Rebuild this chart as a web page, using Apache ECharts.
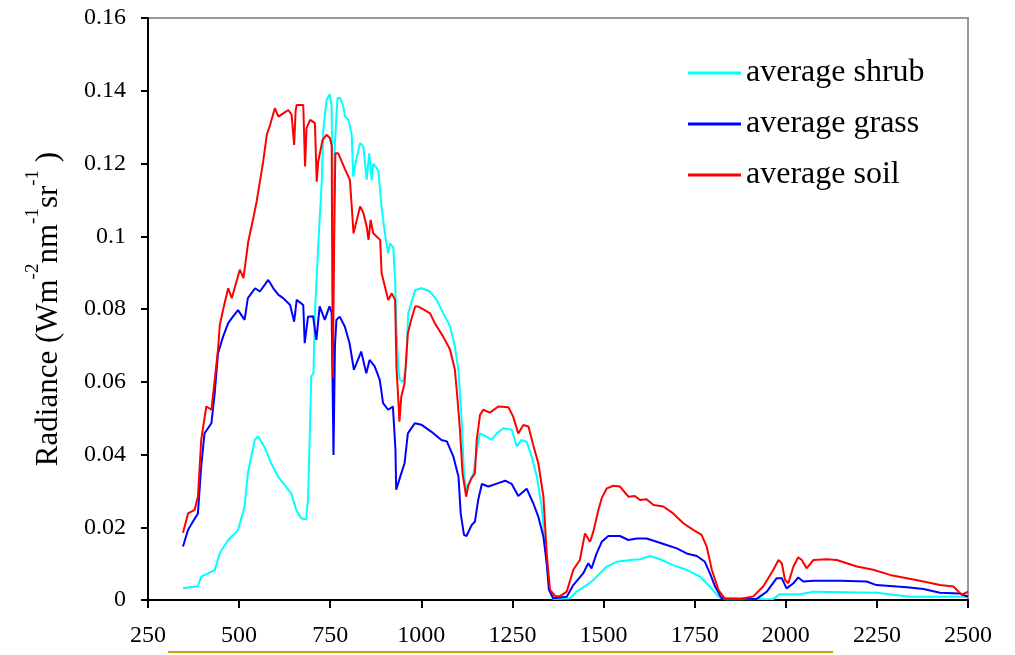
<!DOCTYPE html>
<html>
<head>
<meta charset="utf-8">
<script src="https://cdn.jsdelivr.net/npm/echarts@6/dist/echarts.min.js"></script>
<style>
  html, body { margin: 0; padding: 0; background: #fff; }
  #main { width: 1015px; height: 655px; }
</style>
</head>
<body>
<div id="main"></div>
<script>
// wavelength (nm) / radiance pairs
var shrubWl = [346, 387, 396, 433, 447, 470, 497, 515, 524, 543, 552, 570, 588, 607, 625, 643, 657, 671, 684, 689, 694, 698, 704, 708, 717, 727, 731, 740, 749, 754, 758, 762, 770, 777, 786, 790, 800, 809, 813, 821, 832, 841, 850, 857, 864, 868, 882, 891, 900, 909, 914, 923, 928, 932, 937, 941, 950, 958, 964, 983, 1001, 1024, 1042, 1060, 1079, 1092, 1102, 1111, 1117, 1123, 1134, 1143, 1152, 1161, 1179, 1193, 1207, 1225, 1248, 1262, 1275, 1289, 1303, 1317, 1330, 1344, 1353, 1362, 1408, 1426, 1454, 1472, 1490, 1509, 1536, 1573, 1600, 1627, 1655, 1691, 1728, 1765, 1792, 1815, 1835, 1966, 1984, 2039, 2076, 2249, 2341, 2500];
var shrubRad = [0.0032, 0.0038, 0.0064, 0.0082, 0.0129, 0.0165, 0.0192, 0.0257, 0.0349, 0.044, 0.045, 0.042, 0.0376, 0.0339, 0.0316, 0.0293, 0.0247, 0.0224, 0.0222, 0.0275, 0.0459, 0.0614, 0.0623, 0.0788, 0.0972, 0.1155, 0.1293, 0.1375, 0.139, 0.1357, 0.085, 0.124, 0.138, 0.138, 0.1357, 0.133, 0.132, 0.128, 0.1164, 0.121, 0.1256, 0.1247, 0.1155, 0.1228, 0.1155, 0.12, 0.118, 0.108, 0.1008, 0.0953, 0.098, 0.097, 0.088, 0.0743, 0.0632, 0.0605, 0.060, 0.0641, 0.0788, 0.0852, 0.0857, 0.0848, 0.0825, 0.0788, 0.0752, 0.0697, 0.063, 0.0486, 0.0348, 0.0303, 0.033, 0.0348, 0.041, 0.0458, 0.0449, 0.044, 0.0458, 0.0472, 0.0468, 0.0422, 0.044, 0.0435, 0.0394, 0.0339, 0.0257, 0.0101, 0.0022, 0.0003, 0.0005, 0.0023, 0.0041, 0.0055, 0.0073, 0.0092, 0.0105, 0.011, 0.0112, 0.0121, 0.0112, 0.0096, 0.0083, 0.0064, 0.0037, 0.0009, 0.0002, 0.0003, 0.0016, 0.0016, 0.0023, 0.002, 0.0009, 0.0009];

var grassWl = [346, 360, 373, 387, 396, 405, 424, 433, 442, 456, 470, 483, 497, 515, 524, 544, 557, 580, 594, 608, 621, 640, 651, 658, 676, 680, 689, 703, 712, 721, 735, 748, 754, 759, 763, 767, 776, 790, 803, 815, 826, 835, 849, 858, 872, 886, 895, 909, 922, 929, 931, 945, 954, 963, 982, 1000, 1027, 1055, 1070, 1088, 1102, 1108, 1117, 1124, 1138, 1147, 1156, 1166, 1184, 1207, 1230, 1248, 1266, 1289, 1307, 1321, 1335, 1344, 1350, 1362, 1399, 1417, 1444, 1458, 1467, 1481, 1495, 1513, 1545, 1568, 1591, 1618, 1646, 1673, 1701, 1728, 1756, 1778, 1792, 1806, 1824, 1920, 1948, 1975, 1989, 2002, 2021, 2034, 2048, 2076, 2149, 2222, 2249, 2332, 2378, 2423, 2478, 2500];
var grassRad = [0.0147, 0.0193, 0.0215, 0.0238, 0.0367, 0.0458, 0.0486, 0.0568, 0.0678, 0.0724, 0.0761, 0.0779, 0.0797, 0.077, 0.083, 0.0857, 0.0848, 0.088, 0.0857, 0.0839, 0.083, 0.0811, 0.0765, 0.0825, 0.0811, 0.0706, 0.0779, 0.078, 0.0715, 0.0807, 0.077, 0.0807, 0.079, 0.0399, 0.07, 0.077, 0.0779, 0.0752, 0.0706, 0.0633, 0.066, 0.0683, 0.0623, 0.066, 0.0642, 0.0605, 0.0541, 0.0523, 0.0532, 0.0413, 0.0303, 0.0348, 0.0376, 0.0458, 0.0486, 0.0482, 0.0463, 0.044, 0.0436, 0.0394, 0.0339, 0.0238, 0.0179, 0.0176, 0.0206, 0.0215, 0.0275, 0.0319, 0.0312, 0.032, 0.0328, 0.0319, 0.0286, 0.0306, 0.0266, 0.0229, 0.0174, 0.0101, 0.0028, 0.0005, 0.0009, 0.0041, 0.0073, 0.0101, 0.0087, 0.0128, 0.016, 0.0176, 0.0176, 0.0165, 0.0169, 0.0169, 0.016, 0.0151, 0.0142, 0.0128, 0.0121, 0.0105, 0.0073, 0.0037, 0.0005, 0.0003, 0.0023, 0.006, 0.006, 0.0032, 0.0046, 0.0062, 0.0051, 0.0053, 0.0053, 0.0051, 0.0041, 0.0035, 0.003, 0.002, 0.0018, 0.0009];

var soilWl = [346, 360, 378, 387, 396, 410, 424, 433, 442, 447, 457, 470, 480, 502, 512, 525, 539, 548, 557, 566, 576, 585, 598, 608, 621, 635, 644, 651, 655, 658, 676, 681, 685, 695, 708, 713, 717, 722, 729, 740, 749, 754, 757, 761, 764, 772, 777, 791, 804, 809, 814, 823, 832, 841, 850, 855, 861, 868, 887, 891, 900, 909, 919, 928, 932, 937, 940, 945, 954, 963, 972, 983, 991, 1009, 1024, 1037, 1060, 1079, 1092, 1097, 1106, 1113, 1123, 1129, 1138, 1147, 1152, 1161, 1170, 1188, 1211, 1239, 1252, 1266, 1280, 1294, 1307, 1321, 1335, 1344, 1353, 1367, 1380, 1399, 1417, 1435, 1449, 1463, 1472, 1486, 1495, 1509, 1527, 1545, 1568, 1586, 1600, 1618, 1637, 1664, 1691, 1719, 1746, 1769, 1783, 1797, 1815, 1833, 1874, 1911, 1938, 1966, 1980, 1989, 1998, 2007, 2021, 2034, 2044, 2057, 2076, 2112, 2140, 2195, 2240, 2286, 2332, 2378, 2423, 2460, 2483, 2500];
var soilRad = [0.0185, 0.0238, 0.0248, 0.0284, 0.044, 0.0532, 0.0523, 0.0605, 0.0688, 0.0756, 0.0802, 0.0857, 0.083, 0.0908, 0.0885, 0.0985, 0.105, 0.1095, 0.115, 0.1205, 0.1279, 0.1306, 0.1352, 0.1329, 0.1338, 0.1347, 0.1334, 0.1251, 0.1345, 0.1361, 0.1361, 0.1192, 0.1297, 0.132, 0.1311, 0.115, 0.1205, 0.121, 0.1265, 0.1279, 0.127, 0.125, 0.061, 0.100, 0.1228, 0.1228, 0.1228, 0.1183, 0.1155, 0.1082, 0.1008, 0.1045, 0.1082, 0.1064, 0.1027, 0.099, 0.1045, 0.1008, 0.099, 0.0898, 0.0862, 0.0825, 0.0843, 0.0825, 0.0633, 0.055, 0.049, 0.0559, 0.0596, 0.0733, 0.077, 0.0807, 0.0807, 0.0797, 0.0788, 0.0761, 0.0724, 0.0688, 0.0633, 0.0578, 0.0468, 0.0348, 0.0284, 0.0315, 0.0335, 0.0348, 0.044, 0.0509, 0.0523, 0.0515, 0.0532, 0.053, 0.0504, 0.0458, 0.0481, 0.0477, 0.0426, 0.0376, 0.0284, 0.0128, 0.0028, 0.0011, 0.001, 0.0023, 0.0083, 0.011, 0.0183, 0.016, 0.0188, 0.0248, 0.028, 0.0307, 0.0314, 0.0312, 0.0284, 0.0286, 0.0275, 0.0277, 0.0261, 0.0257, 0.0238, 0.0211, 0.0193, 0.0179, 0.0147, 0.0083, 0.0028, 0.0003, 0.0003, 0.001, 0.0037, 0.0083, 0.011, 0.0101, 0.0055, 0.0046, 0.0092, 0.0117, 0.011, 0.0087, 0.011, 0.0112, 0.011, 0.0092, 0.0083, 0.0069, 0.006, 0.0051, 0.0041, 0.0037, 0.0014, 0.0023];

var seriesNames = ['average shrub', 'average grass', 'average soil'];
var seriesColors = ['#00ffff', '#0000ff', '#ff0000'];

function pairs(xs, ys) {
  var out = [];
  for (var i = 0; i < xs.length; i++) out.push([xs[i], ys[i]]);
  return out;
}

var font = '"Liberation Serif", "Times New Roman", serif';
var chart = echarts.init(document.getElementById('main'), null, { renderer: 'canvas' });

var option = {
  animation: false,
  backgroundColor: '#fff',
  grid: {
    left: 148, right: 47, top: 18, bottom: 55,
    show: true, borderColor: '#999', borderWidth: 2
  },
  legend: {
    orient: 'vertical',
    left: 683, top: 52,
    icon: 'rect',
    itemWidth: 53, itemHeight: 3,
    itemGap: 19,
    itemTextGap: 9,
    data: seriesNames,
    textStyle: { fontFamily: font, fontSize: 32, color: '#000' }
  },
  xAxis: {
    type: 'value',
    min: 250, max: 2500, interval: 250,
    axisLine: { onZero: false, lineStyle: { color: '#000', width: 2 } },
    axisTick: { show: true, inside: false, length: 8, lineStyle: { color: '#000', width: 2 } },
    axisLabel: {
      fontFamily: font, fontSize: 24, color: '#000', margin: 24,
      formatter: function (v) { return String(v); }
    },
    splitLine: { show: false }
  },
  yAxis: {
    type: 'value',
    min: 0, max: 0.16, interval: 0.02,
    axisLine: { show: true, lineStyle: { color: '#000', width: 2 } },
    axisTick: { show: true, inside: false, length: 7, lineStyle: { color: '#000', width: 2 } },
    axisLabel: {
      fontFamily: font, fontSize: 24, color: '#000', margin: 22,
      formatter: function (v) { return String(+v.toFixed(2)); }
    },
    splitLine: { show: false },
    name: '{a|Radiance (Wm}{s|-2}{a|nm}{s|-1}{a|sr}{s|-1}{a| )}',
    nameLocation: 'middle',
    nameRotate: 90,
    nameGap: 84,
    nameTextStyle: {
      rich: {
        a: { fontFamily: font, fontSize: 31, color: '#000', verticalAlign: 'bottom', lineHeight: 40 },
        s: { fontFamily: font, fontSize: 19, color: '#000', verticalAlign: 'top', lineHeight: 40 }
      }
    }
  },
  graphic: [{
    type: 'line',
    shape: { x1: 168, y1: 652, x2: 833, y2: 652 },
    style: { stroke: '#c8a400', lineWidth: 2 }
  }],
  series: [
    { name: seriesNames[0], type: 'line', data: pairs(shrubWl, shrubRad), showSymbol: false, lineStyle: { color: seriesColors[0], width: 2 }, itemStyle: { color: seriesColors[0] } },
    { name: seriesNames[1], type: 'line', data: pairs(grassWl, grassRad), showSymbol: false, lineStyle: { color: seriesColors[1], width: 2 }, itemStyle: { color: seriesColors[1] } },
    { name: seriesNames[2], type: 'line', data: pairs(soilWl, soilRad), showSymbol: false, lineStyle: { color: seriesColors[2], width: 2 }, itemStyle: { color: seriesColors[2] } }
  ]
};

chart.setOption(option);
</script>
</body>
</html>
